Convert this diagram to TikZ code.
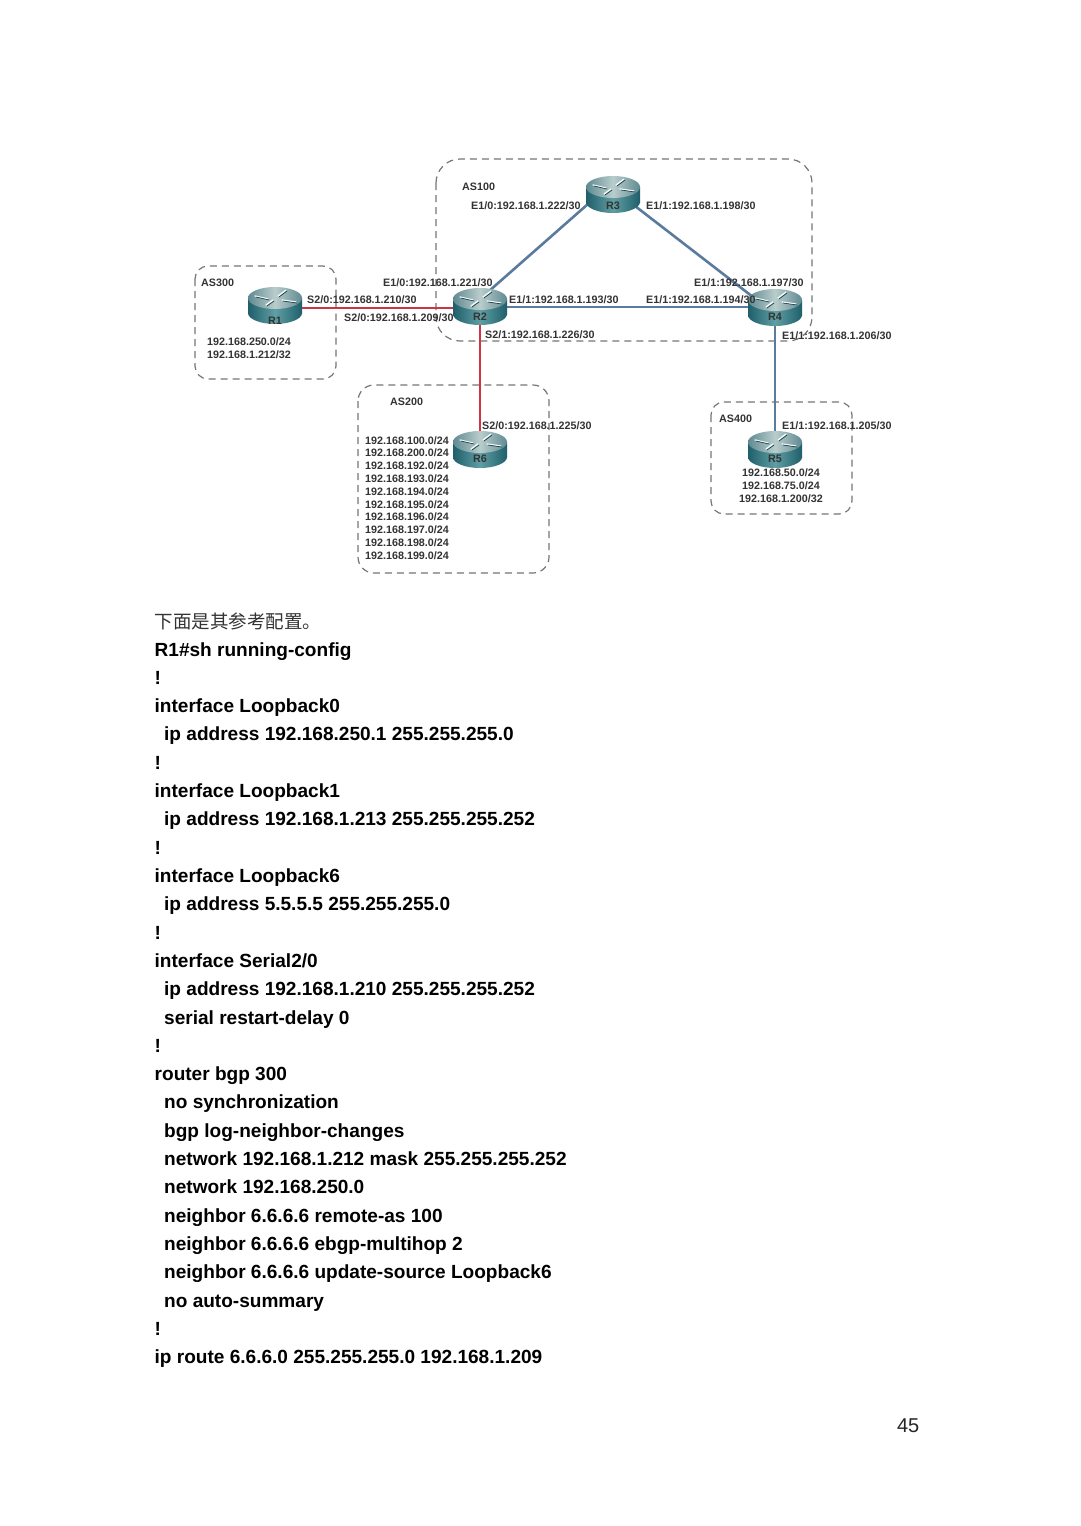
\documentclass[tikz,border=0pt]{standalone}
\usepackage{fontspec}
\setmainfont{Liberation Sans}
\newfontfamily\cjkfont{Noto Sans CJK SC}
\definecolor{lblcol}{HTML}{333333}
\definecolor{dashcol}{HTML}{767676}
\definecolor{bluelink}{HTML}{5A7A9E}
\definecolor{redlink}{HTML}{CE3442}
\definecolor{bodyedge}{HTML}{1F5F6B}
\definecolor{bodymid}{HTML}{5F9EA2}
\definecolor{topedge}{HTML}{5F8A92}
\definecolor{topmid}{HTML}{B9CCCC}
\tikzset{
  x=1pt,y=-1pt,
  asbox/.style={draw=dashcol,line width=1.2pt,dash pattern=on 7pt off 5pt},
  bluewire/.style={draw=bluelink,line width=2.6pt},
  redwire/.style={draw=redlink,line width=2.6pt},
  lbl/.style={anchor=base west,inner sep=0pt,text=lblcol,font=\fontsize{10.75}{11}\selectfont\bfseries},
  lblc/.style={lbl,anchor=base},
  rname/.style={anchor=base,inner sep=0pt,text=lblcol,font=\fontsize{10.8}{11}\selectfont\bfseries},
  codeline/.style={anchor=base west,inner sep=0pt,text=black,font=\fontsize{19.05}{19}\selectfont\bfseries},
  pics/router/.style={code={
    \shade[left color=bodyedge,right color=bodyedge,middle color=bodymid] (-27,0) rectangle (27,15);
    \shade[left color=bodyedge,right color=bodyedge,middle color=bodymid] (0,15) ellipse [x radius=27pt,y radius=11pt];
    \shade[left color=topedge,right color=topedge,middle color=topmid] (0,0) ellipse [x radius=27pt,y radius=11pt];
    \draw[white!90!topmid,line width=1.3pt,line cap=round] (-20,-2)--(-7,1) (-9,7)--(-2,2) (3,-2)--(11,-8) (7,2)--(21,4);
    \draw[bodyedge!70!black,line width=.7pt,line cap=round] (-19,-1)--(-6,2) (-8,8)--(-1,3) (4,-1)--(12,-7) (8,3)--(22,5);
  }}
}
\begin{document}
\begin{tikzpicture}
\useasboundingbox (0,0) rectangle (1080,1526);
\fill[white] (0,0) rectangle (1080,1526);
% AS boxes
\draw[asbox,rounded corners=24pt] (436,159) rectangle (812,341);
\draw[asbox,rounded corners=13pt] (195,266) rectangle (336,379);
\draw[asbox,rounded corners=16pt] (358,385) rectangle (549,573);
\draw[asbox,rounded corners=13pt] (711,402) rectangle (852,514);
% router anchor points
\coordinate (R1) at (275,298);
\coordinate (R2) at (480,299);
\coordinate (R3) at (613,187);
\coordinate (R4) at (775,300);
\coordinate (R5) at (775,442);
\coordinate (R6) at (480,442);
% connectors
\draw[redwire] ([yshift=-10pt]R1) -- ([yshift=-9pt]R2);
\draw[bluewire] ([yshift=-8pt]R2) -- ([yshift=-7pt]R4);
\draw[bluewire] (R2) -- ([yshift=5pt]R3);
\draw[bluewire] ([yshift=-2pt]R3) -- ([yshift=-14pt]R4);
\draw[bluewire] (R4) -- (R5);
\draw[redwire] (R2) -- (R6);
% routers
\pic at (R1) {router};
\pic at (R2) {router};
\pic at (R3) {router};
\pic at (R4) {router};
\pic at (R5) {router};
\pic at (R6) {router};
\node[rname] (nR1) at (275,324) {R1};
\node[rname] (nR2) at (480,320) {R2};
\node[rname] (nR3) at (613,209) {R3};
\node[rname] (nR4) at (775,320) {R4};
\node[rname] (nR5) at (775,462) {R5};
\node[rname] (nR6) at (480,462) {R6};
% labels
\node[lbl] (a100) at (462,190) {AS100};
\node[lbl] (l1) at (471,209) {E1/0:192.168.1.222/30};
\node[lbl] (l2) at (646,209) {E1/1:192.168.1.198/30};
\node[lbl] (l3) at (383,286) {E1/0:192.168.1.221/30};
\node[lbl] (l4) at (694,286) {E1/1:192.168.1.197/30};
\node[lbl] (l5) at (509,303) {E1/1:192.168.1.193/30};
\node[lbl] (l6) at (646,303) {E1/1:192.168.1.194/30};
\node[lbl] (l7) at (307,303) {S2/0:192.168.1.210/30};
\node[lbl] (l8) at (344,321) {S2/0:192.168.1.209/30};
\node[lbl] (l9) at (485,338) {S2/1:192.168.1.226/30};
\node[lbl] (l10) at (782,339) {E1/1:192.168.1.206/30};
\node[lbl] (l11) at (482,429) {S2/0:192.168.1.225/30};
\node[lbl] (l12) at (782,429) {E1/1:192.168.1.205/30};
\node[lbl] (a300) at (201,286) {AS300};
\node[lbl] (n1) at (207,345) {192.168.250.0/24};
\node[lbl] (n2) at (207,358) {192.168.1.212/32};
\node[lbl] (a200) at (390,405) {AS200};
\node[lbl] (p1) at (365,444) {192.168.100.0/24};
\node[lbl] (p2) at (365,456.8) {192.168.200.0/24};
\node[lbl] (p3) at (365,469.6) {192.168.192.0/24};
\node[lbl] (p4) at (365,482.4) {192.168.193.0/24};
\node[lbl] (p5) at (365,495.2) {192.168.194.0/24};
\node[lbl] (p6) at (365,508) {192.168.195.0/24};
\node[lbl] (p7) at (365,520.8) {192.168.196.0/24};
\node[lbl] (p8) at (365,533.6) {192.168.197.0/24};
\node[lbl] (p9) at (365,546.4) {192.168.198.0/24};
\node[lbl] (p10) at (365,559.2) {192.168.199.0/24};
\node[lbl] (a400) at (719,422) {AS400};
\node[lblc] (q1) at (781,476) {192.168.50.0/24};
\node[lblc] (q2) at (781,489) {192.168.75.0/24};
\node[lblc] (q3) at (781,502) {192.168.1.200/32};
% text
\node[anchor=base west,inner sep=0pt,text=black!80,font=\fontsize{18.5}{19}\selectfont\cjkfont] (intro) at (154.5,628) {下面是其参考配置。};
\node[codeline] (c1) at (154.5,656) {R1\#sh running-config};
\node[codeline] (c2) at (154.5,684) {!};
\node[codeline] (c3) at (154.5,712.5) {interface Loopback0};
\node[codeline] (c4) at (164,740.5) {ip address 192.168.250.1 255.255.255.0};
\node[codeline] (c5) at (154.5,769) {!};
\node[codeline] (c6) at (154.5,797.5) {interface Loopback1};
\node[codeline] (c7) at (164,825.5) {ip address 192.168.1.213 255.255.255.252};
\node[codeline] (c8) at (154.5,854) {!};
\node[codeline] (c9) at (154.5,882.5) {interface Loopback6};
\node[codeline] (c10) at (164,910.5) {ip address 5.5.5.5 255.255.255.0};
\node[codeline] (c11) at (154.5,939) {!};
\node[codeline] (c12) at (154.5,967.5) {interface Serial2/0};
\node[codeline] (c13) at (164,995.5) {ip address 192.168.1.210 255.255.255.252};
\node[codeline] (c14) at (164,1024) {serial restart-delay 0};
\node[codeline] (c15) at (154.5,1052) {!};
\node[codeline] (c16) at (154.5,1080) {router bgp 300};
\node[codeline] (c17) at (164,1108.5) {no synchronization};
\node[codeline] (c18) at (164,1137) {bgp log-neighbor-changes};
\node[codeline] (c19) at (164,1165) {network 192.168.1.212 mask 255.255.255.252};
\node[codeline] (c20) at (164,1193.5) {network 192.168.250.0};
\node[codeline] (c21) at (164,1222) {neighbor 6.6.6.6 remote-as 100};
\node[codeline] (c22) at (164,1250) {neighbor 6.6.6.6 ebgp-multihop 2};
\node[codeline] (c23) at (164,1278.5) {neighbor 6.6.6.6 update-source Loopback6};
\node[codeline] (c24) at (164,1307) {no auto-summary};
\node[codeline] (c25) at (154.5,1335) {!};
\node[codeline] (c26) at (154.5,1363.5) {ip route 6.6.6.0 255.255.255.0 192.168.1.209};
\node[anchor=base east,inner sep=0pt,text=black!85,font=\fontsize{20}{20}\selectfont] (pageno) at (919.5,1432) {45};
\end{tikzpicture}
\end{document}
